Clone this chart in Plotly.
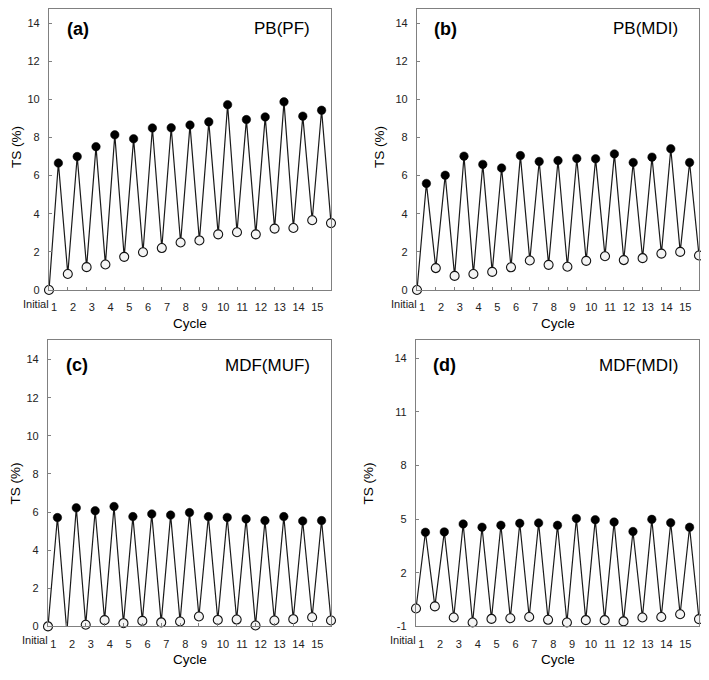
import plotly.graph_objects as go

# ---- data ----
cycles = list(range(1, 16))
cycle_labels = [str(c) for c in cycles]
initial_label = "Initial"

initial_a = 0.0
wet_a = [6.66, 7.00, 7.52, 8.14, 7.93, 8.50, 8.51, 8.65, 8.82, 9.72, 8.94, 9.08, 9.87, 9.12, 9.43]
dry_a = [0.84, 1.20, 1.34, 1.74, 1.98, 2.20, 2.49, 2.60, 2.92, 3.03, 2.92, 3.22, 3.25, 3.66, 3.51]

initial_b = 0.0
wet_b = [5.59, 6.02, 7.02, 6.59, 6.40, 7.05, 6.74, 6.79, 6.90, 6.88, 7.14, 6.69, 6.97, 7.41, 6.69]
dry_b = [1.15, 0.74, 0.84, 0.95, 1.19, 1.55, 1.32, 1.22, 1.53, 1.77, 1.57, 1.67, 1.91, 2.00, 1.81]

initial_c = 0.0
wet_c = [5.71, 6.22, 6.07, 6.29, 5.76, 5.90, 5.84, 5.97, 5.76, 5.72, 5.64, 5.55, 5.76, 5.53, 5.55]
dry_c = [-0.30, 0.09, 0.33, 0.17, 0.29, 0.21, 0.26, 0.52, 0.34, 0.36, 0.05, 0.31, 0.38, 0.48, 0.31]

initial_d = 0.0
wet_d = [4.27, 4.29, 4.73, 4.55, 4.66, 4.77, 4.79, 4.66, 5.04, 4.97, 4.84, 4.31, 4.99, 4.80, 4.55]
dry_d = [0.12, -0.50, -0.78, -0.58, -0.54, -0.47, -0.63, -0.78, -0.65, -0.65, -0.72, -0.50, -0.47, -0.32, -0.59]

ticks_abc = [0, 2, 4, 6, 8, 10, 12, 14]
ticks_d = [-1, 2, 5, 8, 11, 14]

panel_letters = ["(a)", "(b)", "(c)", "(d)"]
panel_names = ["PB(PF)", "PB(MDI)", "MDF(MUF)", "MDF(MDI)"]
y_title = "TS (%)"
x_title = "Cycle"

# ---- layout config ----
OFF = 8                      # page body margin of the browser
W, H = 709 - 2 * OFF, 680 - 2 * OFF
FONT = "Liberation Sans, Arial, sans-serif"
AXIS_COLOR = "#808080"
LINE_COLOR = "#1a1a1a"

panels = [
    dict(init=initial_a, wet=wet_a, dry=dry_a, yr=[0, 15], yt=ticks_abc, px=(49, 331), py=(3, 292), ytx=16, minor=True),
    dict(init=initial_b, wet=wet_b, dry=dry_b, yr=[0, 15], yt=ticks_abc, px=(417, 699), py=(3, 292), ytx=379, minor=True),
    dict(init=initial_c, wet=wet_c, dry=dry_c, yr=[0, 15], yt=ticks_abc, px=(48, 331), py=(343, 632), ytx=15, minor=True),
    dict(init=initial_d, wet=wet_d, dry=dry_d, yr=[-1, 15], yt=ticks_d, px=(416, 699), py=(343, 632), ytx=368, minor=False),
]

fig = go.Figure()
annotations = []
layout_axes = {}

for i, p in enumerate(panels):
    n = "" if i == 0 else str(i + 1)
    xref, yref = "x" + n, "y" + n
    wet_x = [2 * c - 1 for c in cycles]
    dry_x = [2 * c for c in cycles]
    seq_x, seq_y = [0], [p["init"]]
    for k in range(len(cycles)):
        seq_x += [wet_x[k], dry_x[k]]
        seq_y += [p["wet"][k], p["dry"][k]]

    fig.add_trace(go.Scatter(x=seq_x, y=seq_y, mode="lines", xaxis=xref, yaxis=yref,
                             line=dict(color=LINE_COLOR, width=1.2), showlegend=False, hoverinfo="skip"))
    fig.add_trace(go.Scatter(x=wet_x, y=p["wet"], mode="markers", xaxis=xref, yaxis=yref, cliponaxis=False,
                             marker=dict(size=8.5, color="black", line=dict(color="black", width=0.5)),
                             showlegend=False))
    all_dx = [0] + dry_x
    all_dy = [p["init"]] + p["dry"]
    ymin = p["yr"][0]
    for inside in (True, False):
        sx = [x for x, y in zip(all_dx, all_dy) if (y >= ymin) == inside]
        sy = [y for y in all_dy if (y >= ymin) == inside]
        if not sx:
            continue
        fig.add_trace(go.Scatter(x=sx, y=sy, mode="markers", xaxis=xref, yaxis=yref, cliponaxis=not inside,
                                 marker=dict(size=9, color="#f4f4f4", line=dict(color="#111111", width=1.1)),
                                 showlegend=False))

    # page pixel box -> figure pixel box (the page is offset by OFF)
    x0, x1 = p["px"][0] - OFF, p["px"][1] - OFF
    y0_full, y1 = p["py"][0] - OFF, p["py"][1] - OFF
    y0 = max(y0_full, 0)
    lo, hi = p["yr"]
    hi_vis = lo + (hi - lo) * (y1 - y0) / (y1 - y0_full)   # keep the same scale if the top is cut
    xaxis = dict(domain=[x0 / W, x1 / W], range=[0, 30], anchor=yref,
                 showline=True, mirror=True, linecolor=AXIS_COLOR, linewidth=1.3,
                 showgrid=False, zeroline=False,
                 tickmode="array", tickvals=[x - 0.45 for x in wet_x], ticktext=cycle_labels,
                 ticks="", ticklabelstandoff=7,
                 tickfont=dict(family=FONT, size=11, color="#222"))
    if p["minor"]:
        xaxis["minor"] = dict(tickmode="array", tickvals=dry_x[:-1], ticks="inside", ticklen=3,
                              tickcolor=AXIS_COLOR, tickwidth=1, showgrid=False)
    yaxis = dict(domain=[1 - y1 / H, 1 - y0 / H], range=[lo, hi_vis], anchor=xref,
                 showline=True, mirror=True, linecolor=AXIS_COLOR, linewidth=1.3,
                 showgrid=False, zeroline=False,
                 tickmode="array", tickvals=p["yt"], ticktext=[str(v) for v in p["yt"]],
                 ticks="inside", ticklen=3,
                 tickcolor=AXIS_COLOR, ticklabelstandoff=6,
                 tickfont=dict(family=FONT, size=11, color="#222"))
    layout_axes["xaxis" + n] = xaxis
    layout_axes["yaxis" + n] = yaxis

    dom = xref + " domain"
    ydom = yref + " domain"
    label_y = 1 - (y0_full + 25) / H
    annotations += [
        dict(text="<b>" + panel_letters[i] + "</b>", xref=dom, yref="paper", x=28.5 / (x1 - x0), y=label_y,
             xanchor="center", yanchor="middle", showarrow=False, font=dict(family=FONT, size=18, color="black")),
        dict(text=panel_names[i], xref=dom, yref="paper", x=1 - 19 / (x1 - x0), y=label_y,
             xanchor="right", yanchor="middle", showarrow=False, font=dict(family=FONT, size=17, color="black")),
        dict(text=y_title, xref="paper", yref="paper", x=(p["ytx"] - OFF) / W, y=1 - (y0_full + y1) / 2 / H,
             textangle=-90, xanchor="center", yanchor="middle", showarrow=False,
             font=dict(family=FONT, size=13.5, color="black")),
        dict(text=x_title, xref=dom, yref=ydom, x=0.5, y=0, yshift=-33,
             xanchor="center", yanchor="middle", showarrow=False, font=dict(family=FONT, size=13.5, color="black")),
        dict(text=initial_label, xref=xref, yref=ydom, x=0, y=0, yshift=-14, xshift=2,
             xanchor="right", yanchor="middle", showarrow=False, font=dict(family=FONT, size=11, color="#222")),
    ]

fig.update_layout(width=W, height=H, margin=dict(l=0, r=0, t=0, b=0),
                  paper_bgcolor="white", plot_bgcolor="white",
                  annotations=annotations, **layout_axes)

fig.write_html("out.html")
